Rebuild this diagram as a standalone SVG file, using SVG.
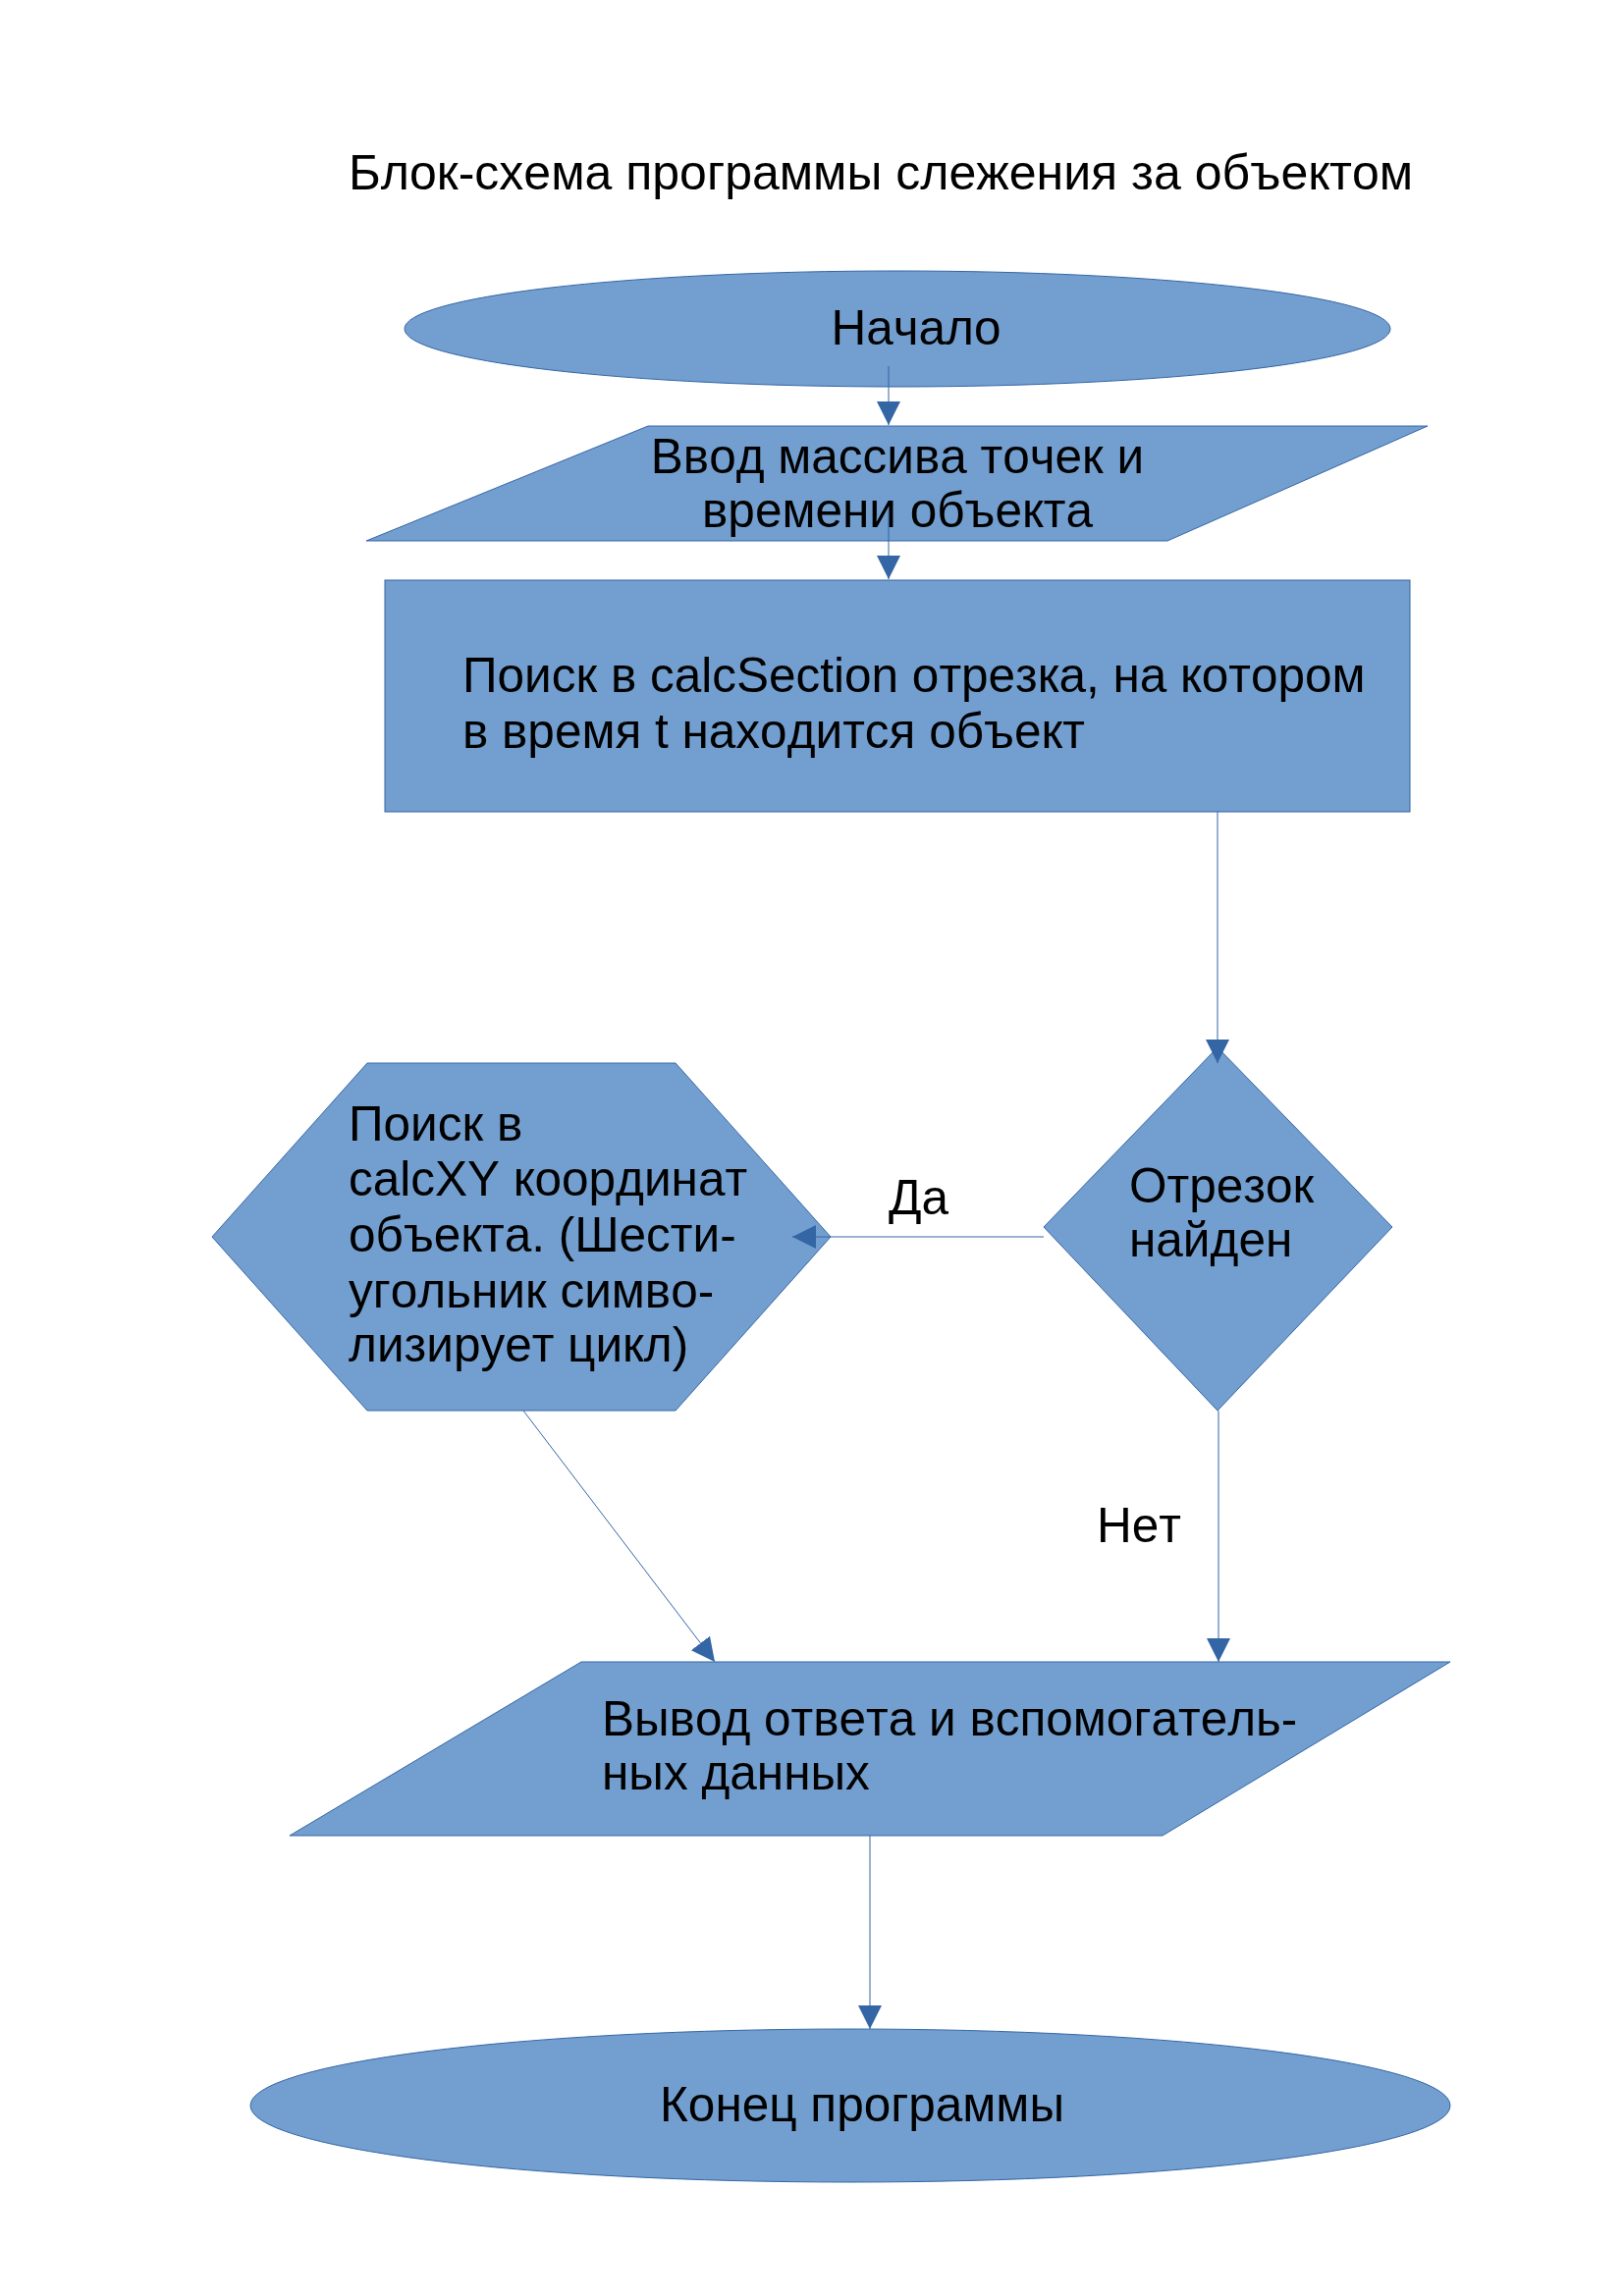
<svg xmlns="http://www.w3.org/2000/svg" width="1654" height="2339" viewBox="0 0 1654 2339">
<style>
.shape{fill:#729fcf;stroke:#3465a4;stroke-width:1}
.t{font-family:"Liberation Sans",Arial,sans-serif;font-size:49.5px;fill:#000;font-kerning:none}
.title{font-family:"Liberation Sans",Arial,sans-serif;font-size:50px;fill:#000;font-kerning:none}
.c{text-anchor:middle}
.conn{stroke:#3465a4;stroke-width:1;fill:none;marker-end:url(#arr)}
</style>
<defs>
<marker id="arr" markerUnits="userSpaceOnUse" markerWidth="24" markerHeight="24" refX="24" refY="12" orient="auto">
<path d="M0,0 L24,12 L0,24 z" fill="#3465a4"/>
</marker>
</defs>
<rect width="1654" height="2339" fill="#fff"/>
<text class="title" x="355" y="193">Блок-схема программы слежения за объектом</text>

<g id="start">
<ellipse class="shape" cx="914" cy="335" rx="502" ry="59"/>
<text class="t c" x="933" y="351">Начало</text>
</g>
<g id="input">
<polygon class="shape" points="660,434 1454,434 1189,551 373,551"/>
<text class="t c" x="914" y="482">Ввод массива точек и</text>
<text class="t c" x="914" y="537">времени объекта</text>
</g>
<g id="search">
<rect class="shape" x="392" y="591" width="1044" height="236"/>
<text class="t" x="471" y="705">Поиск в calcSection отрезка, на котором</text>
<text class="t" x="471" y="762">в время t находится объект</text>
</g>
<g id="decision">
<polygon class="shape" points="1240,1067 1418,1250 1240,1437 1063,1250"/>
<text class="t" x="1150" y="1225">Отрезок</text>
<text class="t" x="1150" y="1280">найден</text>
</g>
<g id="loop">
<polygon class="shape" points="374,1083 688,1083 846,1260 688,1437 374,1437 216,1260"/>
<text class="t" x="355" y="1162">Поиск в</text>
<text class="t" x="355" y="1218">calcXY координат</text>
<text class="t" x="355" y="1275">объекта. (Шести-</text>
<text class="t" x="355" y="1332">угольник симво-</text>
<text class="t" x="355" y="1387">лизирует цикл)</text>
</g>
<g id="output">
<polygon class="shape" points="592,1693 1477,1693 1184,1870 295,1870"/>
<text class="t" x="613" y="1768">Вывод ответа и вспомогатель-</text>
<text class="t" x="613" y="1823">ных данных</text>
</g>
<g id="end">
<ellipse class="shape" cx="866" cy="2145" rx="611" ry="78"/>
<text class="t c" x="878" y="2161">Конец программы</text>
</g>

<g id="connectors">
<line class="conn" x1="905" y1="373" x2="905" y2="433"/>
<line class="conn" x1="905" y1="520" x2="905" y2="590"/>
<line class="conn" x1="1240" y1="827" x2="1240" y2="1083"/>
<line class="conn" x1="1063" y1="1260" x2="807" y2="1260"/>
<line class="conn" x1="533" y1="1437" x2="728" y2="1693"/>
<line class="conn" x1="1241" y1="1437" x2="1241" y2="1693"/>
<line class="conn" x1="886" y1="1870" x2="886" y2="2067"/>
<text class="t" x="905" y="1237">Да</text>
<text class="t" x="1117" y="1571">Нет</text>
</g>
</svg>
